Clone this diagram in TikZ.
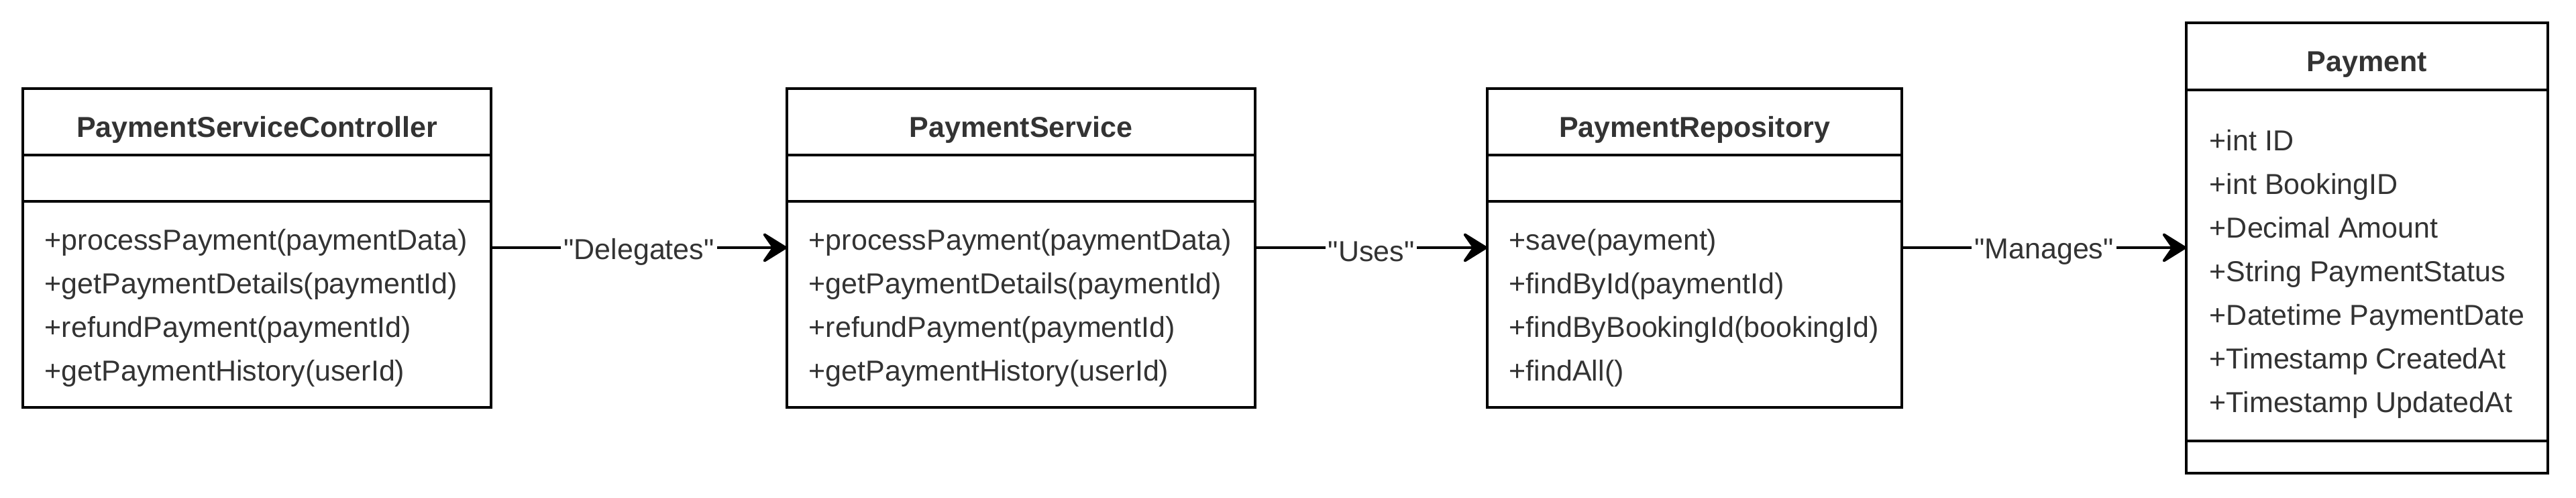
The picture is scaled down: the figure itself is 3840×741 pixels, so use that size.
\documentclass[tikz,border=0pt]{standalone}
\usepackage{fontspec}
\setmainfont{Liberation Sans}
\usetikzlibrary{arrows.meta,positioning}
\newcommand\umlfont{\fontsize{10.75}{13}\selectfont}
\begin{document}
\begin{tikzpicture}[x=0.25pt, y=-0.25pt,
    box/.style={draw=black, line width=1pt, outer sep=0pt, inner sep=0pt},
    title/.style={box, font=\umlfont\bfseries, text=black!80, text height=17.25pt, text depth=6pt},
    member/.style={anchor=base west, inner sep=0pt, font=\umlfont, text=black!80},
    link/.style={line width=1pt, -{Stealth[length=10.5pt, width=13pt, inset=4.5pt, round]}},
    lbl/.style={fill=white, inner sep=1pt, yshift=-1.5pt, font=\umlfont, text=black!80}]
  \useasboundingbox (0,0) rectangle (3840,741);

  \node[title, anchor=north west, minimum width=174.5pt, minimum height=24.75pt] (ctrlName) at (34,132) {PaymentServiceController};
  \node[box, minimum width=174.5pt, minimum height=17.25pt, below=0pt of ctrlName] (ctrlAttr) {};
  \node[box, minimum width=174.5pt, minimum height=76.75pt, below=0pt of ctrlAttr] (ctrlOps) {};
  \foreach \m [count=\i] in {+processPayment(paymentData), +getPaymentDetails(paymentId), +refundPayment(paymentId), +getPaymentHistory(userId)}
    \node[member] (ctrlOp\i) at ([xshift=8pt, yshift={-18pt-(\i-1)*16.25pt}]ctrlOps.north west) {\m};

  \node[title, anchor=north west, minimum width=174.5pt, minimum height=24.75pt] (svcName) at (1173,132) {PaymentService};
  \node[box, minimum width=174.5pt, minimum height=17.25pt, below=0pt of svcName] (svcAttr) {};
  \node[box, minimum width=174.5pt, minimum height=76.75pt, below=0pt of svcAttr] (svcOps) {};
  \foreach \m [count=\i] in {+processPayment(paymentData), +getPaymentDetails(paymentId), +refundPayment(paymentId), +getPaymentHistory(userId)}
    \node[member] (svcOp\i) at ([xshift=8pt, yshift={-18pt-(\i-1)*16.25pt}]svcOps.north west) {\m};

  \node[title, anchor=north west, minimum width=154.5pt, minimum height=24.75pt] (repoName) at (2217,132) {PaymentRepository};
  \node[box, minimum width=154.5pt, minimum height=17.25pt, below=0pt of repoName] (repoAttr) {};
  \node[box, minimum width=154.5pt, minimum height=76.75pt, below=0pt of repoAttr] (repoOps) {};
  \foreach \m [count=\i] in {+save(payment), +findById(paymentId), +findByBookingId(bookingId), +findAll()}
    \node[member] (repoOp\i) at ([xshift=8pt, yshift={-18pt-(\i-1)*16.25pt}]repoOps.north west) {\m};

  \node[title, anchor=north west, minimum width=134.75pt, minimum height=25pt] (payName) at (3259,34) {Payment};
  \node[box, minimum width=134.75pt, minimum height=130.75pt, below=0pt of payName] (payAttrs) {};
  \node[box, minimum width=134.75pt, minimum height=12pt, below=0pt of payAttrs] (payOps) {};
  \foreach \m [count=\i] in {+int ID, +int BookingID, +Decimal Amount, +String PaymentStatus, +Datetime PaymentDate, +Timestamp CreatedAt, +Timestamp UpdatedAt}
    \node[member] (payAttr\i) at ([xshift=8.5pt, yshift={-22.5pt-(\i-1)*16.25pt}]payAttrs.north west) {\m};

  \coordinate (ctrlOut) at ([yshift=-17.25pt]ctrlOps.north east);
  \coordinate (svcOut) at ([yshift=-17.25pt]svcOps.north east);
  \coordinate (repoOut) at ([yshift=-17.25pt]repoOps.north east);
  \draw[link] (ctrlOut) -- node[lbl] {\textquotedbl Delegates\textquotedbl} (ctrlOut -| svcOps.west);
  \draw[link] (svcOut) -- node[lbl] {\textquotedbl Uses\textquotedbl} (svcOut -| repoOps.west);
  \draw[link] (repoOut) -- node[lbl] {\textquotedbl Manages\textquotedbl} (repoOut -| payAttrs.west);
\end{tikzpicture}
\end{document}
